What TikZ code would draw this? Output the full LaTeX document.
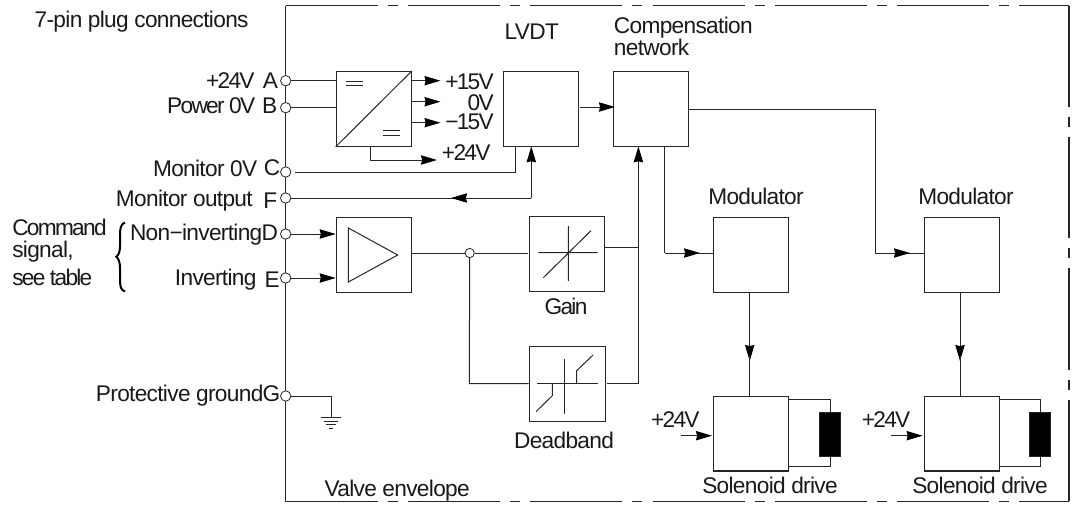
\documentclass[tikz,border=0pt]{standalone}
\usepackage{fontspec}
\setmainfont{Liberation Sans}
\newfontfamily\labfont[LetterSpace=-3]{Liberation Sans}
\newfontfamily\tightfont[LetterSpace=-7.5]{Liberation Sans}
\usetikzlibrary{arrows.meta}
\tikzset{
 x=0.75pt,y=-0.75pt,
 wire/.style={line width=0.75pt,draw=black!85},
 block/.style={draw=black!85,line width=0.85pt,fill=none,inner sep=0pt,anchor=north west,minimum width=56.25pt,minimum height=56pt},
 pin/.style={circle,draw=black!85,fill=white,line width=0.6pt,inner sep=0pt,minimum size=7.8pt},
 arr/.style={wire,-{Stealth[length=12pt,width=7pt,inset=0.8pt,black]}},
 lab/.style={inner sep=0pt,text=black!90,font=\labfont\fontsize{17pt}{18pt}\selectfont},
 tlab/.style={inner sep=0pt,text=black!90,font=\tightfont\fontsize{17pt}{18pt}\selectfont},
 envline/.style={line width=0.85pt,draw=black!85,dash pattern=on 69pt off 7.5pt on 7.5pt off 7.7pt},
 coil/.style={fill=black,draw=black!85,line width=0.5pt,inner sep=0pt,anchor=north west,minimum width=16pt,minimum height=33pt},
}
\begin{document}
\begin{tikzpicture}
\useasboundingbox (0,0) rectangle (1075,504);
% envelope
\draw[envline] (285.7,5.5) -- (1069,5.5);
\draw[line width=0.85pt,draw=black!85] (285.7,5.5) -- (285.7,501.7);
\draw[envline] (285.7,501.7) -- (1069,501.7);
\draw[line width=0.85pt,draw=black!85,dash pattern=on 76pt off 7.5pt on 7.5pt off 7.5pt] (1069,5.5) -- (1069,501.7);
% blocks
\node[block] (psu) at (335.7,71) {};
\node[block] (lvdt) at (502.7,71) {};
\node[block] (comp) at (612.6,71) {};
\node[block] (amp) at (335.7,217) {};
\node[block,minimum width=56.5pt] (gain) at (529,216) {};
\node[block,minimum width=57pt] (dead) at (528.5,346.3) {};
\node[block] (mod1) at (712.7,217) {};
\node[block] (mod2) at (923.6,217) {};
\node[block] (drv1) at (712.7,395.7) {};
\node[block] (drv2) at (923.6,395.7) {};
\node[coil] (coil1) at (819,411.7) {};
\node[coil] (coil2) at (1029,411.7) {};
% pins
\node[pin] (pA) at (285.7,80.7) {};
\node[pin] (pB) at (285.7,107.7) {};
\node[pin] (pC) at (285.7,172) {};
\node[pin] (pF) at (285.7,198) {};
\node[pin] (pD) at (285.7,234) {};
\node[pin] (pE) at (285.7,278) {};
\node[pin] (pG) at (285.7,396) {};
\node[pin,minimum size=7pt] (junc) at (469.7,253) {};
% psu symbol
\draw[wire] (psu.south west) -- (psu.north east);
\draw[wire] (345.7,81) -- (362.7,81) (345.7,85.7) -- (362.7,85.7);
\draw[wire] (382.7,130) -- (400,130) (382.7,135) -- (400,135);
% amp symbol
\draw[wire] (348.4,228) -- (397.7,255) -- (348.4,282) -- cycle;
% connections
\draw[wire] (pA) -- (psu.west |- pA);
\draw[wire] (pB) -- (psu.west |- pB);
\coordinate (o1) at (440.5,80.7); \coordinate (o2) at (440.5,101.7); \coordinate (o3) at (440.5,122.7);
\draw[arr] (psu.east |- o1) -- (o1);
\draw[arr] (psu.east |- o2) -- (o2);
\draw[arr] (psu.east |- o3) -- (o3);
\coordinate (o4) at (437,160);
\draw[arr] (370,146) |- (o4);
\coordinate (c0) at (295,172);
\coordinate (c2) at (515.4,146.5);
\draw[wire] (c0) -| (c2);
\coordinate (fm) at (451,198);
\coordinate (fc) at (531.3,198);
\draw[wire] (pF) -- (fc);
\draw[arr] (fc) -- (fm);
\draw[arr] (fc) -- (531.3,146.3);
\draw[arr] (pD) -- (amp.west |- pD);
\draw[arr] (pE) -- (amp.west |- pE);
\draw[wire] (amp.east |- junc) -- (junc);
\draw[wire] (junc) -- (528,253);
\coordinate (d1) at (469.3,383.7);
\draw[wire] (junc) -- (d1) -- (dead.west |- d1);
\draw[arr] (580.2,107) -- (615,107);
\coordinate (bus) at (638.4,383.7);
\draw[wire] (606.7,383.7) -- (bus);
\draw[arr] (bus) -- (638.4,146.3);
\draw[wire] (gain.east |- 0,247) -- (638.4,247);
\coordinate (c1) at (664.8,253);
\draw[wire] (664.8,147) -- (c1);
\draw[wire] (c1) -- (714,253);
\draw[arr] (c1) -- (700,253);
\coordinate (c3) at (875.9,253);
\draw[wire] (689.4,109.5) -| (c3) -- (924.6,253);
\draw[arr] (c3) -- (910,253);
\draw[arr] (749.7,292) -- (749.7,361);
\draw[wire] (749.7,355) -- (749.7,395.7);
\draw[arr] (960,292) -- (960,361);
\draw[wire] (960,355) -- (960,395.7);
\draw[arr] (680.5,435.7) -- (712,435.7);
\draw[arr] (891,435.7) -- (922.6,435.7);
\draw[wire] (drv1.east |- 0,399) -| (coil1.north);
\draw[wire] (coil1.south) |- (drv1.east |- 0,466.7);
\draw[wire] (drv2.east |- 0,399) -| (coil2.north);
\draw[wire] (coil2.south) |- (drv2.east |- 0,466.7);
% ground
\coordinate (g1) at (331.2,417.7);
\draw[wire] (pG) -| (g1);
\draw[wire] (321,417.7) -- (341,417.7) (323.7,421) -- (338,421) (326.4,424.3) -- (335.7,424.3) (328.8,428) -- (333,428);
% gain symbol
\draw[wire] (568.3,226) -- (568.3,281) (538.3,252.7) -- (597.7,252.7) (543.3,277.7) -- (591,230.7);
% deadband symbol
\draw[wire] (564.7,359) -- (564.7,414.3) (537,383.7) -- (597.7,383.7);
\draw[wire] (576.7,383.7) -- (576.7,370.7) -- (593,355);
\draw[wire] (552.3,383.7) -- (552.3,395.7) -- (536,411.7);
% brace
\draw[line width=1.5pt,draw=black] (125,222.5) .. controls (120.5,224) and (120,229) .. (120,236) -- (120,246) .. controls (120,252) and (118.5,255) .. (116.3,256.7) .. controls (118.5,258.5) and (120,262) .. (120,268) -- (120,279) .. controls (120,286) and (120.5,290) .. (125,291.5);
% labels
\node[lab,anchor=west] at (34.4,22) {7-pin plug connections};
\node[tlab,anchor=east] at (254.8,81) {+24V};
\node[lab,anchor=east] at (278.2,81) {A};
\node[tlab,anchor=east] at (255.5,105.7) {Power 0V};
\node[lab,anchor=east] at (277.5,105.7) {B};
\node[lab,anchor=east] at (257.5,168) {Monitor 0V};
\node[lab,anchor=east] at (280.6,168) {C};
\node[lab,anchor=east] at (253,201) {Monitor output};
\node[lab,anchor=east] at (277.5,201) {F};
\node[lab,anchor=east] at (278.3,235) {Non−invertingD};
\node[lab,anchor=east] at (256.7,280) {Inverting};
\node[lab,anchor=east] at (280,280) {E};
\node[lab,anchor=east] at (280.6,395.7) {Protective groundG};
\node[tlab,anchor=west] at (12,227.3) {Command};
\node[lab,anchor=west] at (12,251.7) {signal,};
\node[tlab,anchor=west] at (12,277.3) {see table};
\node[tlab,anchor=east] at (494,82) {+15V};
\node[tlab,anchor=east] at (494,102.5) {0V};
\node[tlab,anchor=east] at (494,122) {−15V};
\node[tlab,anchor=west] at (441.7,153) {+24V};
\node[lab,anchor=west] at (504.4,31.7) {LVDT};
\node[lab,anchor=west] at (613.7,27.5) {Compensation};
\node[lab,anchor=west] at (613.7,47.7) {network};
\node[lab,anchor=center] at (756,196) {Modulator};
\node[lab,anchor=center] at (966,196) {Modulator};
\node[tlab,anchor=center] at (566,306.7) {Gain};
\node[lab,anchor=center] at (564,440) {Deadband};
\node[lab,anchor=center] at (770,485) {Solenoid drive};
\node[lab,anchor=center] at (980,485) {Solenoid drive};
\node[tlab,anchor=west] at (650.8,420) {+24V};
\node[tlab,anchor=west] at (861.6,420) {+24V};
\node[lab,anchor=west] at (324.3,490.7) {Valve envelope};
\end{tikzpicture}
\end{document}
